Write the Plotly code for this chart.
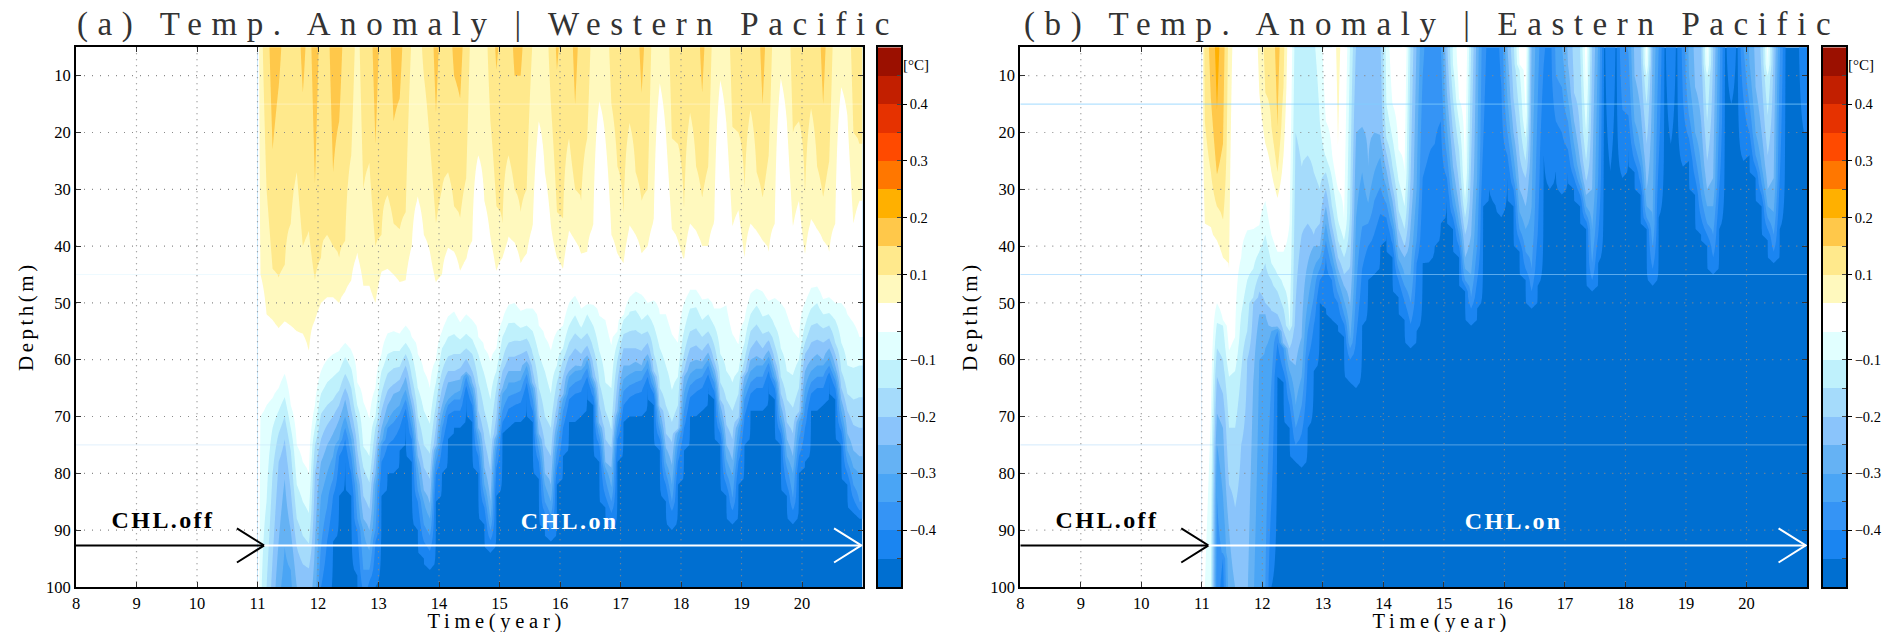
import numpy as np
import plotly.graph_objects as go

# ---------- axes ----------
x_ticks = [8, 9, 10, 11, 12, 13, 14, 15, 16, 17, 18, 19, 20]
y_ticks = [10, 20, 30, 40, 50, 60, 70, 80, 90, 100]
marker_depths = [15, 45, 75]
arrow_depth = 92.7
split_year = 11.11
head_back_off = 3.0
head_len_off = 0.45
end_year = 20.98

# contour colours: coldest -> warmest (both -0.05..0 and 0..0.05 are white)
blues = ["#006FD1", "#1A85F1", "#3594F5", "#4AA5F5", "#65B2F4", "#8AC4FB", "#A5DBFB", "#BFF1FC", "#E1FFFF"]
warms = ["#FFF9BE", "#FFE98C", "#FFC84A", "#FFB000", "#FF7700", "#FF4A00", "#E63200", "#C21F00", "#9B1000"]
bar_labels = {2: "\u22120.4", 4: "\u22120.3", 6: "\u22120.2", 8: "\u22120.1", 11: "0.1", 13: "0.2", 15: "0.3", 17: "0.4"}

# ---------- times of the data columns (year) ----------
years = [11 + 0.05 + 0.1 * i for i in range(100)]

# ---------- panel (a): depth (m) reached by each anomaly contour, per column; 0 = above the surface, 110 = below the plot ----------
a_p15 = [0,0,23,12,0,0,0,13,0,29, 0,0,27,18,0,0,0,0,0,22, 0,0,18,14,0,0,0,0,0,16.6, 0,0,10,14,0,0,0,0,0,9,
         0,0,10,10,0,0,0,0,0,9, 0,0,15,0,0,0,0,0,0,0, 0,0,0,13,0,0,0,0,0,0, 0,0,0,13,0,0,0,0,0,0,
         0,0,0,15,0,0,0,0,0,0, 0,0,0,15,0,0,0,0,0,0]
a_p10 = [0,30,44,45.8,43.7,36,27,40,37.5,46, 42,38,40,42,39,24,0,30,25.5,40, 38,31,36,37,34,2,0,10,22,36,
         30,27,33,35,28,0,0,0,18,33, 36,24,30,34,30,3,0,0,15,34, 35.5,21,30,32,21,0,0,0,15,26,
         34.5,18.4,27,32,30,0,0,0,21,22, 33.7,16.6,26,31.6,26,0,0,0,19,20, 30,16,27,31.6,24,0,0,0,20,18,
         31,15.8,26,31.5,25,0,0,0,20,22]
a_p05 = [45,52,53,54.6,53.4,54,55,55.5,58.6,53, 50,49,49,50,48,46,41.5,47,47,50, 44.5,44,45,46.5,46,40,31.5,38,41,46.5,
         45,40.5,41,44.5,42.5,39,24,32,38.5,44.5, 42,38.5,39.5,43,41.5,36.5,18,27,36.5,42,
         44,37.5,39,41.5,41,36.6,14.6,21,38,41.5, 43,36.6,38,41.5,40,35.5,11.4,20,37,39,
         42.5,36,37.5,40,40,35.8,10.8,18.4,36.6,33.7, 42,36,37.5,39,41,36,10.5,18,36.6,32,
         41.6,35.5,37,39,41,36,12,17,36,32]
a_m05 = [70,68,66.8,65,62.5,68,75,78,80,68, 62,60,59,58.5,57,58.5,64,67.5,70.5,65, 59,55.5,55,55.5,54,56,59,62,65,60,
         55,52.5,51.6,53.5,52,53,56,58,60.5,58, 53,50.5,50,51.5,51,51,54,56,58.5,55,
         54,50,48.8,51,50.5,50.5,52.5,53,57.5,55, 52.5,49,48,48.5,50,49.7,52,52,55.5,57,
         50,47.8,47.8,49.5,49.3,51,51,50.5,55.5,57.5, 53,48.5,47.6,48,49.8,49.2,50,52,55,56.5,
         50,47.5,47.2,49.5,49,50,50,52,53.5,56]
a_m10 = [110,85,72,69,66.6,72,82,85,87,72, 66,64,63,62,59.5,61.5,68,75.5,77,70, 62,59,58.5,58.5,57,59,65,69,71.3,64,
         58,56,55.5,56.5,55.5,56.5,59,62.5,67,62, 56,53.5,53.5,54.5,54,55,59,62,66,61,
         58,54,52.2,54.5,52,54,58.5,64,65,57, 53,51.5,51.3,53,52,54,58,61,65.5,63,
         55,51,50.7,53,52,54,59,62,64,62, 57,52,50.4,52.5,52,54,58,62,62.8,60,
         54,51,50,52,51.8,53,57,61,61.5,61]
a_m15 = [110,100,80,73,70,76,88,91,92.4,75, 69.5,68,67,65.5,62.5,65,71,79,81.6,72, 66,62.5,61.5,61.3,59,63,70,75,76.6,68,
         62,59.5,59,59,58,59,64,69,74,65, 60,57,56.7,56.7,56.3,59,65,70,72,64,
         60,57,55.4,56.3,55.4,58,64,69,72.5,60, 55.5,55,54.8,55.5,55,59,65,68,71,68,
         59,55,54.5,56,55,57.5,64,67,69,66, 60,55,53.8,55.5,55,57.5,63,67,68.5,65,
         57,54,53.6,54.5,54,57,62,66,67,66.6]
a_m20 = [110,110,95,78,74,83,93,96,96.6,80, 74,71.5,70,68,65,69,76,84,86.3,76, 69,65.5,64.5,63.6,61,66,74,79,81,72,
         65,62,62,61.5,59.8,62,69,74,79.5,70, 62,59.5,59.5,59,58.4,62,70,75,77,68,
         63,59.5,58,59,57.5,61,68,74,75.4,64, 58,58,58,58.5,57,62,69,73,74.5,73,
         62,58,57.5,58.5,57,60.5,67,71.5,74,71, 63,58,56.5,58,56.5,60,66,71,73,70,
         59,57,56.5,57,56.3,59,65,69,71.5,72]
a_m25 = [110,110,110,92,81,90,100,105,105,92, 78,75,73,70.5,67,72,80,88,90,80, 72,68,66,65.4,63,68,77,83,85.4,76,
         68,64,63.7,63.5,62.4,64,72,79,85,74, 65,62,62,62,60.7,65,73,80,82,71,
         67,62,61,61.5,59.5,64,72,78,79,69, 61,61,60.5,61,59,62.5,69,75.5,78.6,69,
         63,60.5,60,60.5,58.8,61.5,68,75,77.8,69, 62,60,59.5,60,58.5,61.5,68,74,77,68,
         62,60,59,60,58,61,67,73,76,77]
a_m30 = [110,110,110,103,93,97,110,110,110,110, 84,80,77,74,70,74,82,90,93.6,82, 75,71,69,68,65.4,70,79,85,88,75,
         70,67,66,65.5,61.5,65,73,82,88,74, 66,64,64,63.5,61,65,74,82,85,73,
         66,63,62,61.5,60,64,72,79,82.5,70, 63.5,62.5,62,62,60,64,71,78,82,72,
         66,62.5,61.5,61.5,60,63,70,77.5,80.4,72, 65,62,61,61,59.5,63,70,77,80,71,
         65,62,61,61,59.5,62.5,69,76,79,80]
a_m35 = [110,110,110,110,110,110,110,110,110,110, 93,86,81,75,72,77,88,97,97,90, 75,72,71,69.5,67,72,83,89,91,78,
         72,68,67,67,63,66.5,75,84,90,76, 69,66.5,66,65.5,62.5,67,76,85,87.5,76,
         69,65,64,63.5,61.5,65,73.5,81,85,72, 65.5,64.5,64,63.5,61.5,65,72.5,80,85,75,
         69,64.5,63.5,63,61,64,71.5,80,84.5,75, 67,64,63,63,60.5,63.5,71.5,79,84.5,74,
         68,64,63,63,61,63.5,71,78,82,85]
a_m40 = [110,110,110,110,110,110,110,110,110,110, 100,92,84,77,74,80,90,101,99,92, 78,75,74,72,68.5,74,85,92,93.6,80,
         75,69.5,69,69,64.5,68,77,86,91.8,79, 71,68.5,68,67.5,64,69,78,87,90,79,
         72,67,66,65.5,63,66.5,75,84,87,74, 68,66.5,66,65.5,63,66,74,82,86.5,78,
         72,66.5,65.5,65,62.5,65.5,73,82,86.5,78, 70,66,65,65,62,65,73,82,86.5,77,
         72,66,65,65,62.2,65,72.5,80,84.5,86.5]
a_m45 = [110,110,110,110,110,110,110,110,110,110, 110,103,92,84,78,84,98,110,110,100, 84,80,80,76,71,78,90,95,97,85,
         80,73.5,72,71.5,66.6,70.5,80,89,93.6,84, 73,72,71,70.5,66.6,71,81,90,92,82,
         77,71,70.7,70,65,68,78,86,89.5,78, 71,70,70,69.5,65,67.5,75.5,84.5,89.5,82,
         76,70,69.5,69,64.5,67,75,84,89,82, 75,69,69,68.5,64,66.5,75,84,88.4,80,
         78,69,68.6,68,63.6,67,75,82,86.5,88]

# ---------- panel (b) ----------
b_p20 = [0,0,16,0,0,0,0,0,0,0] + [0] * 90
b_p15 = [0,14,27.5,22,0,0,0,0,0,0, 0,0,19,0,0,0,0,0,0,0] + [0] * 80
b_p10 = [18,27,33,35.5,0,0,0,0,0,0, 13,19,27,12,0,0,0,0,0,0] + [0] * 80
b_p05 = [36,36.5,39,42,44,0,0,0,0,13, 22,27,31.5,24,0,0,0,0,0,0, 0,0,22.5,0,0,0,0,0,0,0] + [0] * 70
b_m05 = [100,70,50,53,58.5,56,42,37.5,37,36.5, 32,38,41,41,36,0,0,0,0,0, 18,23.7,30,35.5,0,0,0,0,0,0,
         0,15,23,27,0,0,0,0,0,0, 0,0,14,27,0,0,0,0,0,0,
         0,0,8,17,0,0,0,0,0,0, 0,0,5,12,0,0,0,0,0,0, 0,0,0,8,0,0,0,0,0,0, 0,0,0,8,0,0,0,0,0,0, 0,0,0,8,0,0,0,0,0,0]
b_m10 = [110,100,53.4,54,63,62,52,46,44,41, 38,43,45,47,55,0,0,0,2,18, 24.5,28,35.5,39,3,0,0,0,0,0,
         15,21,28.4,33,0,0,0,0,0,0, 0,8,18,32,0,0,0,0,0,0,
         0,0,9,21,0,0,0,0,0,0, 0,0,0,20,0,0,0,0,0,0, 0,0,0,10,0,0,0,0,0,0, 0,0,0,10,0,0,0,0,0,0, 0,0,0,10,0,0,0,0,0,0]
b_m15 = [110,110,58,60,72,72,62,55,49,45, 43,46,48,51,55,20,26,24,27,30, 27,33,39,42,34,0,0,0,0,3,
         21,26,33.7,37,3,0,0,0,0,0, 0,14,23,35,5,0,0,0,0,0,
         0,3,17,25,0,0,0,0,0,0, 0,0,3,25,0,0,0,0,0,0, 0,0,0,15,0,0,0,0,0,0, 0,0,0,18,0,0,0,0,0,0, 0,0,0,17,0,0,0,0,0,0]
b_m20 = [110,110,63,66,82,86,75,60,50,48, 50,51.5,52,55,58,50,38,36,38,36, 30,36.5,42,45,43.6,4,0,0,0,3,
         23.7,29.6,37,40,28,0,0,0,0,0, 3,20,29,38,25,0,0,0,0,0,
         0,14,24,28,0,0,0,0,0,0, 0,13,20,28.6,5,0,0,0,0,0, 0,0,4,22,0,0,0,0,0,0, 0,0,2,25,5,0,0,0,0,0, 0,0,10,24,3,0,0,0,0,0]
b_m25 = [110,110,69.5,72,90,100,105,105,64,52, 52,55,55,58,60,61,56,43,40,40, 33,39,44,47,50.6,20,19,26,20,20.8,
         26.6,32,40,42,36.5,3,0,0,0,0, 13,26,33,42,38,0,0,0,0,0,
         5,20,30,33,4,0,0,0,0,0, 8,18,25,31,30,0,0,0,0,0, 0,10,16,30,2,0,0,0,0,0, 0,12,18,30,28,0,0,0,0,0, 0,12,20,30,28,0,0,0,0,0]
b_m30 = [110,110,75,84,110,110,110,110,105,60, 58,54,53,56,62,68,63,50,44,42, 36,41.4,46,49.7,56.6,35,27,32.5,27,24.3,
         29.6,35,42.4,45,45,30,0,0,0,0, 19,30,36,44,45,28,0,0,0,0,
         14,24,34,37,33,0,0,0,0,5, 14,22,28,33,37,3,0,0,0,0, 0,18,23,33,36,0,0,0,0,0, 10,20,26,33,33,0,0,0,0,0, 8,20,26,33,34,0,0,0,0,0]
b_m35 = [110,110,84,95,110,110,110,110,110,110, 100,64,54,58,65,72,68,55,49,44, 39,43.7,48.4,52,58,48,36.6,36,32,29.6,
         32.5,37,44,47,50,39,10,0,0,5, 24,33,38,46,49,40,0,0,0,0,
         20,28,37,41,44,15,0,0,10,12, 18,26,29.5,34.5,43,28,0,0,0,3, 6,22,26,35,40,5,0,0,0,0, 17,24,31,36,38,18,0,0,0,5, 15,24,29,35,38,8,0,0,0,0]
b_m40 = [110,110,110,94,95,110,110,110,110,110, 110,85,57,62,68,75,73,60,54,46, 42,46,50,53.6,60,56,44,40,37.8,34.3,
         35,39.6,46,49.7,53.7,43,28,24,22,18, 28,35,40,47,51,46,22,0,0,12,
         24,30,39,44,48,38,8,0,18,20, 23,28,31,35.5,46,38,0,0,0,16, 17,25,29,36,44,25,0,0,0,14, 21,28,35,38,42,30,0,0,0,14, 20,26,31,37,41,28,0,0,0,0]
b_m45 = [110,110,110,110,110,110,110,110,110,110, 110,100,63,64,72,78,79,72,62,50, 51,52.5,53.7,56,64,65,54,45.5,45,40,
         38,42,49,53,57.7,55,43,42.5,40,36, 32,37,42,48,54,51,33,30,32.5,34.6,
         28,33,41,46,51,47,24,30,26.6,30.5, 27,30,32.5,37,48,43,0,26.6,0,28, 23,27,31,37,46.5,35,0,22,0,26, 25,31,38,40,45,37,0,15,0,25, 24,27.5,33,38.5,43,37,0,0,0,20]

a_levels = [0.15, 0.10, 0.05, -0.05, -0.10, -0.15, -0.20, -0.25, -0.30, -0.35, -0.40, -0.45]
b_levels = [0.20] + a_levels
a_isolines = [a_p15, a_p10, a_p05, a_m05, a_m10, a_m15, a_m20, a_m25, a_m30, a_m35, a_m40, a_m45]
b_isolines = [b_p20, b_p15, b_p10, b_p05, b_m05, b_m10, b_m15, b_m20, b_m25, b_m30, b_m35, b_m40, b_m45]

depth_axis = list(range(5, 101))


def profile_table(levels, isolines):
    tab = np.array(isolines, dtype=float)
    tab = np.where(tab <= 0, -15.0, tab)
    tab = np.maximum.accumulate(tab, axis=0)
    fp = np.array([levels[0] + 0.05] + levels + [-0.5])
    cols = []
    for j in range(tab.shape[1]):
        xp = np.concatenate(([-15.0], tab[:, j], [200.0]))
        cols.append(np.interp(depth_axis, xp, fp))
    z = np.array(cols).T
    blank = np.full((len(depth_axis), 1), 0.01)
    return np.hstack([blank, z, z[:, -1:]])


x_cols = [11.0] + years + [21.0]


def stepped(cols):
    n = len(cols)
    out = []
    for i, c in enumerate(cols):
        out += [[i / n, c], [(i + 1) / n, c]]
    return out


contour_scale = stepped(blues + ["#FFFFFF", "#FFFFFF"] + warms)
bar_colors = blues + ["#FFFFFF"] + warms

W, H = 1892, 632
PX = lambda v: v / W
PY = lambda v: 1 - v / H
top, bottom = 47.3, 586.9

fig = go.Figure()

panels = [
    dict(ax="", bar="3", left=76, right=862.5, cb=(878, 901), tables=profile_table(a_levels, a_isolines),
         lines=["rgba(255,255,255,0.35)", "rgba(205,240,255,0.35)", "rgba(190,225,250,0.45)"]),
    dict(ax="2", bar="4", left=1020.3, right=1807, cb=(1823, 1846), tables=profile_table(b_levels, b_isolines),
         lines=["rgba(130,205,255,0.75)", "rgba(150,210,255,0.6)", "rgba(170,215,250,0.5)"]),
]

layout = dict(
    width=W, height=H, margin=dict(l=0, r=0, t=0, b=0, pad=0, autoexpand=False), paper_bgcolor="white",
    plot_bgcolor="white", showlegend=False, font=dict(family="Liberation Serif", color="black"),
)
FONT = dict(family="Liberation Serif", size=16.5, color="black")

for p in panels:
    xa, ya = "x" + p["ax"], "y" + p["ax"]
    fig.add_trace(go.Contour(
        x=x_cols, y=depth_axis, z=p["tables"], xaxis=xa, yaxis=ya, showscale=False, hoverinfo="skip",
        zmin=-0.5, zmax=0.5, colorscale=contour_scale, autocontour=False,
        contours=dict(start=-0.45, end=0.45, size=0.05, coloring="fill", showlines=False),
        line=dict(width=0, smoothing=0),
    ))
    for d, c in zip(marker_depths, p["lines"]):
        fig.add_trace(go.Scatter(x=[x_ticks[0], 21], y=[d, d], xaxis=xa, yaxis=ya, mode="lines",
                                 line=dict(color=c, width=1), hoverinfo="skip"))
    for t in x_ticks[1:]:
        fig.add_trace(go.Scatter(x=[t, t], y=[5, 100], xaxis=xa, yaxis=ya, mode="lines",
                                 line=dict(color="#8a8a8a", width=1.2, dash="1px,5px"), hoverinfo="skip"))
    for d in y_ticks[:-1]:
        fig.add_trace(go.Scatter(x=[8, 21], y=[d, d], xaxis=xa, yaxis=ya, mode="lines",
                                 line=dict(color="#8a8a8a", width=1.2, dash="1px,7px"), hoverinfo="skip"))
    # arrows
    fig.add_trace(go.Scatter(x=[8, split_year], y=[arrow_depth, arrow_depth], xaxis=xa, yaxis=ya, mode="lines",
                             line=dict(color="black", width=2), hoverinfo="skip"))
    fig.add_trace(go.Scatter(x=[split_year - head_len_off, split_year, split_year - head_len_off],
                             y=[arrow_depth - head_back_off, arrow_depth, arrow_depth + head_back_off],
                             xaxis=xa, yaxis=ya, mode="lines", line=dict(color="black", width=2), hoverinfo="skip"))
    fig.add_trace(go.Scatter(x=[split_year, end_year], y=[arrow_depth, arrow_depth], xaxis=xa, yaxis=ya, mode="lines",
                             line=dict(color="white", width=2), hoverinfo="skip"))
    fig.add_trace(go.Scatter(x=[end_year - head_len_off, end_year, end_year - head_len_off],
                             y=[arrow_depth - head_back_off, arrow_depth, arrow_depth + head_back_off],
                             xaxis=xa, yaxis=ya, mode="lines", line=dict(color="white", width=2), hoverinfo="skip"))
    axis_common = dict(showgrid=False, zeroline=False, showline=True, linecolor="black", linewidth=2,
                       mirror="allticks", ticks="inside", ticklen=5, tickcolor="#333", tickwidth=1, tickfont=FONT,
                       layer="above traces")
    layout["xaxis" + p["ax"]] = dict(domain=[PX(p["left"]), PX(p["right"])], range=[8, 21], tickvals=x_ticks,
                                     ticktext=[str(t) for t in x_ticks], anchor=ya, **axis_common)
    layout["yaxis" + p["ax"]] = dict(domain=[PY(bottom), PY(top)], range=[100, 5], tickvals=y_ticks,
                                     ticktext=[str(t) for t in y_ticks], anchor=xa, **axis_common)
    # colour bar
    xb, yb = "x" + p["bar"], "y" + p["bar"]
    fig.add_trace(go.Heatmap(z=[[i] for i in range(len(bar_colors))], x=[0], y=[i + 0.5 for i in range(len(bar_colors))],
                             xaxis=xb, yaxis=yb, zmin=-0.5, zmax=len(bar_colors) - 0.5, colorscale=stepped(bar_colors),
                             showscale=False, hoverinfo="skip"))
    layout["xaxis" + p["bar"]] = dict(domain=[PX(p["cb"][0]), PX(p["cb"][1])], range=[-0.5, 0.5], showticklabels=False,
                                      ticks="", showgrid=False, zeroline=False, showline=True, linecolor="black",
                                      linewidth=1.5, mirror=True, anchor=yb)
    layout["yaxis" + p["bar"]] = dict(domain=[PY(bottom), PY(top)], range=[0, len(bar_colors)], side="right", anchor=xb,
                                      tickvals=list(bar_labels), ticktext=list(bar_labels.values()),
                                      ticks="outside", ticklen=4, tickwidth=1, tickcolor="black", showgrid=False,
                                      zeroline=False, showline=True, linecolor="black", linewidth=1.5, mirror=True,
                                      tickfont=dict(family="Liberation Serif", size=14.5, color="black"),
                                      minor=dict(tickvals=list(range(1, len(bar_colors))), ticks="inside", ticklen=4,
                                                 tickcolor="#444", tickwidth=1, showgrid=False))


def note(text, x, y, size, color="black", bold=False, angle=0):
    text = f"<b>{text}</b>" if bold else text
    return dict(text=text, x=PX(x), y=PY(y), xref="paper", yref="paper", xanchor="center", yanchor="middle",
                showarrow=False, textangle=angle,
                font=dict(family="Liberation Serif", size=size, color=color))


notes = [
    note("(a) Temp. Anomaly | Western Pacific", 488, 25, 33, color="#333333"),
    note("(b) Temp. Anomaly | Eastern Pacific", 1432, 25, 33, color="#333333"),
    note("Time(year)", 497, 621, 20.5),
    note("Time(year)", 1441, 621, 20.5),
    note("Depth(m)", 26, 316, 21, angle=-90),
    note("Depth(m)", 970, 316, 21, angle=-90),
    note("CHL.off", 163, 520, 24, bold=True),
    note("CHL.off", 1107, 520, 24, bold=True),
    note("CHL.on", 569, 521, 24, color="white", bold=True),
    note("CHL.on", 1513, 521, 24, color="white", bold=True),
    note("[\u00b0C]", 916, 65, 15),
    note("[\u00b0C]", 1861, 65, 15),
]
layout["annotations"] = notes
fig.update_layout(**layout)

post = """
document.body.style.margin = '0';
var spacing = {'(a)': 9.6, '(b)': 9.6, 'Time': 4.7, 'Dept': 3.5, 'CHL.': 2.4};
document.querySelectorAll('.annotation-text').forEach(function (t) {
  var s = t.textContent.slice(0, 4);
  Object.keys(spacing).forEach(function (k) {
    if (s.indexOf(k) === 0) { t.style.letterSpacing = spacing[k] + 'px'; }
  });
});
"""
fig.write_html("out.html", post_script=post, config=dict(displayModeBar=False))
